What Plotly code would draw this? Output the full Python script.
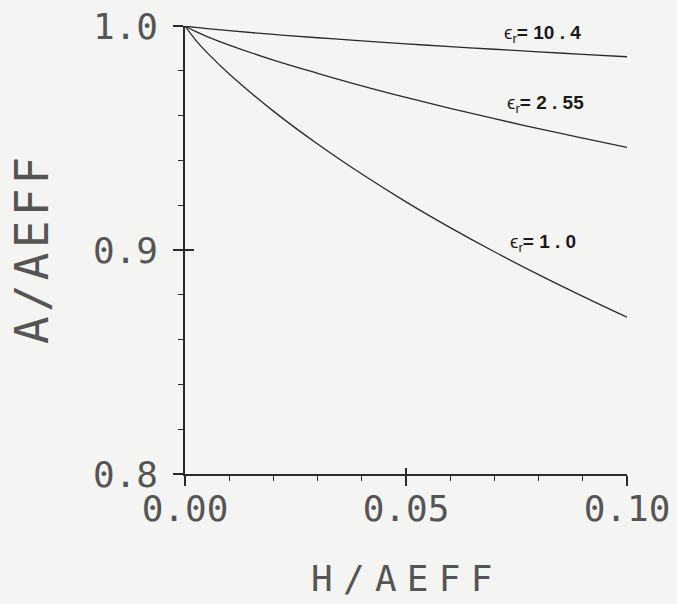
import plotly.graph_objects as go

# H/AEFF values
h_aeff = [0.0, 0.0025, 0.005, 0.01, 0.02, 0.03, 0.04, 0.05, 0.06, 0.07, 0.08, 0.09, 0.10]
# A/AEFF for each dielectric constant
a_eps_1_0 = [1.0, 0.9935, 0.9881, 0.9786, 0.9620, 0.9473, 0.9339, 0.9215, 0.9100, 0.8992, 0.8890, 0.8793, 0.8700]
a_eps_2_55 = [1.0, 0.99745, 0.9953, 0.9915, 0.9848, 0.9789, 0.9733, 0.9681, 0.9632, 0.9586, 0.9542, 0.9499, 0.9458]
a_eps_10_4 = [1.0, 0.99937, 0.99885, 0.99791, 0.99625, 0.99476, 0.99337, 0.99206, 0.99081, 0.98961, 0.98847, 0.98736, 0.98628]

series_names = ["10.4", "2.55", "1.0"]
label_x = [0.0717, 0.0724, 0.0731]
label_y = [0.9966, 0.9650, 0.9031]

x_tickvals = [0.0, 0.05, 0.10]
x_ticktext = ["0.00", "0.05", "0.10"]
y_tickvals = [0.8, 0.9, 1.0]
y_ticktext = ["0.8", "0.9", "1.0"]

BG = "#f4f4f2"
INK = "#2a2a2a"
TXT = "#555555"
MONO = "DejaVu Sans Mono"

fig = go.Figure()
for ys in (a_eps_10_4, a_eps_2_55, a_eps_1_0):
    fig.add_trace(go.Scatter(x=h_aeff, y=ys, mode="lines", line=dict(color=INK, width=1.3, shape="spline"),
                             cliponaxis=False, showlegend=False, hoverinfo="skip"))
# empty trace to hold the overlay axes (inside halves of major ticks)
fig.add_trace(go.Scatter(x=[], y=[], xaxis="x2", yaxis="y2", showlegend=False))

def spaced(text, gap):
    sp = '<span style="font-size:%dpx"> </span>' % gap
    return sp.join(list(text))

fig.update_layout(
    width=677, height=604,
    margin=dict(l=185, r=50, t=26, b=130),
    paper_bgcolor=BG, plot_bgcolor=BG,
    xaxis=dict(range=[0, 0.1], showgrid=False, zeroline=False, showline=True, linecolor=INK, linewidth=1.5,
               automargin=False,
               ticks="outside", ticklen=10, tickwidth=1.5, tickcolor=INK,
               tickvals=x_tickvals, ticktext=x_ticktext, ticklabelstandoff=-8,
               tickfont=dict(family=MONO, size=36, color=TXT),
               minor=dict(dtick=0.01, ticks="outside", ticklen=5, tickwidth=1.2, tickcolor=INK)),
    yaxis=dict(range=[0.8, 1.0], showgrid=False, zeroline=False, showline=True, linecolor=INK, linewidth=1.5,
               automargin=False,
               ticks="outside", ticklen=10, tickwidth=1.5, tickcolor=INK,
               tickvals=y_tickvals, ticktext=y_ticktext, ticklabelstandoff=8,
               tickfont=dict(family=MONO, size=36, color=TXT),
               minor=dict(dtick=0.02, ticks="outside", ticklen=5, tickwidth=1.2, tickcolor=INK)),
    xaxis2=dict(range=[0, 0.1], overlaying="x", anchor="y", side="bottom", showgrid=False, zeroline=False,
                showline=False, automargin=False, ticks="inside", ticklen=6, tickwidth=1.5, tickcolor=INK,
                tickvals=[0.05, 0.10], showticklabels=False),
    yaxis2=dict(range=[0.8, 1.0], overlaying="y", anchor="x", side="left", showgrid=False, zeroline=False,
                showline=False, automargin=False, ticks="inside", ticklen=9, tickwidth=1.5, tickcolor=INK,
                tickvals=[0.9], showticklabels=False),
)

for name, lx, ly in zip(series_names, label_x, label_y):
    val = " ".join(name.replace(".", " . ").split())
    fig.add_annotation(x=lx, y=ly, xref="x", yref="y", xanchor="left", yanchor="middle", showarrow=False,
                       text="ϵ<sub>r</sub><b>= %s</b>" % val,
                       font=dict(family="Liberation Sans", size=19, color="#1a1a1a"))

fig.add_annotation(x=(32 - 185) / 442, y=(474 - 251) / 448, xref="paper", yref="paper", showarrow=False,
                   xanchor="center", yanchor="middle",
                   textangle=-90, text=spaced("A/AEFF", 7), font=dict(family=MONO, size=46, color=TXT))
fig.add_annotation(x=(401 - 185) / 442, y=(474 - 578) / 448, xref="paper", yref="paper", showarrow=False,
                   xanchor="center", yanchor="middle",
                   text=spaced("H/AEFF", 17), font=dict(family=MONO, size=36, color=TXT))

fig.write_html("out.html")
